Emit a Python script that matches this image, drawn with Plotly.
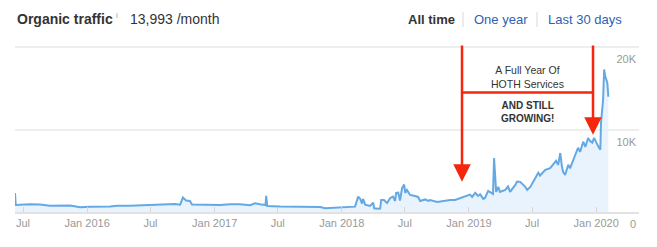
import plotly.graph_objects as go

dates = [
    "2015-06-08", "2015-06-10", "2015-07-21", "2015-08-19", "2015-09-16", "2015-11-13",
    "2015-12-12", "2016-01-09", "2016-03-07", "2016-03-27", "2016-05-03", "2016-06-30",
    "2016-08-12", "2016-09-09", "2016-09-24", "2016-10-02", "2016-10-11", "2016-10-22",
    "2016-10-28", "2016-11-20", "2017-01-17", "2017-02-14", "2017-03-15", "2017-04-13",
    "2017-04-27", "2017-05-11", "2017-05-27", "2017-05-29", "2017-06-01", "2017-07-08",
    "2017-09-03", "2017-10-31", "2017-11-14", "2017-12-13", "2017-12-27", "2018-02-08",
    "2018-02-17", "2018-02-23", "2018-02-28", "2018-03-03", "2018-03-09", "2018-03-23",
    "2018-04-01", "2018-04-04", "2018-04-15", "2018-04-21", "2018-04-24", "2018-05-02",
    "2018-05-11", "2018-05-20", "2018-05-28", "2018-06-03", "2018-06-06", "2018-06-12",
    "2018-06-17", "2018-06-23", "2018-06-29", "2018-07-02", "2018-07-07", "2018-07-16",
    "2018-07-30", "2018-08-08", "2018-08-14", "2018-08-28", "2018-09-06", "2018-09-11",
    "2018-10-02", "2018-10-24", "2018-11-08", "2018-11-22", "2018-12-07", "2018-12-21",
    "2019-01-04", "2019-01-10", "2019-01-19", "2019-01-27", "2019-02-02", "2019-02-11",
    "2019-02-16", "2019-02-25", "2019-03-03", "2019-03-11", "2019-03-14", "2019-03-20",
    "2019-03-26", "2019-03-31", "2019-04-15", "2019-04-23", "2019-04-29", "2019-05-08",
    "2019-05-14", "2019-05-19", "2019-05-28", "2019-06-11", "2019-06-17", "2019-06-26",
    "2019-07-10", "2019-07-19", "2019-07-24", "2019-08-08", "2019-08-22", "2019-08-31",
    "2019-09-08", "2019-09-14", "2019-09-20", "2019-09-25", "2019-09-28", "2019-10-04",
    "2019-10-13", "2019-10-18", "2019-10-27", "2019-11-02", "2019-11-10", "2019-11-16",
    "2019-11-25", "2019-12-01", "2019-12-09", "2019-12-15", "2019-12-21", "2019-12-26",
    "2020-01-01", "2020-01-07", "2020-01-13", "2020-01-15", "2020-01-21", "2020-01-24",
    "2020-01-27", "2020-01-30", "2020-02-02", "2020-02-05",
]
traffic = [
    2300, 850, 940, 900, 770, 790,
    570, 650, 670, 770, 770, 890,
    975, 975, 890, 1750, 1400, 1340,
    900, 890, 850, 940, 940, 820,
    1060, 940, 850, 1950, 730, 670,
    610, 600, 450, 490, 525, 650,
    1870, 1590, 1025, 1590, 900, 730,
    1130, 450, 400, 420, 1460, 1460,
    1100, 1710, 1870, 1340, 2320, 2350,
    1400, 2890, 3330, 2320, 2680, 2070,
    1950, 1830, 1340, 1525, 1340, 1460,
    1220, 1380, 1460, 1460, 1670, 1870,
    2110, 1830, 2320, 1950, 2170, 1590,
    1710, 2560, 2400, 2200, 6550, 2440,
    3050, 2440, 2680, 3090, 2440, 2930,
    3290, 3700, 3660, 3090, 2680, 3050,
    4150, 4760, 4430, 5120, 5330, 5770,
    6220, 5730, 7160, 5490, 4880, 4510,
    5730, 5300, 6340, 6800, 7800, 7300,
    8540, 7900, 8990, 8600, 8420, 8990,
    8380, 7970, 7560, 10860, 13660, 17300,
    16500, 15900, 15700, 13993,
]

tick_dates = ["2015-07-01", "2016-01-01", "2016-07-01", "2017-01-01", "2017-07-01",
              "2018-01-01", "2018-07-01", "2019-01-01", "2019-07-01", "2020-01-01"]
tick_labels = ["Jul", "Jan 2016", "Jul", "Jan 2017", "Jul",
               "Jan 2018", "Jul", "Jan 2019", "Jul", "Jan 2020"]
y_ticks = [0, 10000, 20000]
y_labels = ["0", "10K", "20K"]

FONT = "Liberation Sans, Arial, Helvetica, sans-serif"
RED = "#f5260c"

fig = go.Figure()
fig.add_trace(go.Scatter(
    x=dates, y=traffic, mode="lines",
    line=dict(color="#64a8e4", width=2),
    fill="tozeroy", fillcolor="rgba(228,240,252,0.8)",
    hoverinfo="skip",
))

fig.update_layout(
    width=657, height=247,
    margin=dict(l=15, r=18, t=44, b=35),
    paper_bgcolor="white", plot_bgcolor="white",
    showlegend=False,
    font=dict(family=FONT, color="#999999", size=11),
    xaxis=dict(
        type="date", range=["2015-06-08", "2020-05-03"],
        tickvals=tick_dates, ticktext=tick_labels,
        ticks="inside", ticklen=5, tickcolor="#d6d6d6", tickwidth=1,
        showgrid=False, showline=True, linecolor="#e2e2e2", linewidth=2,
        tickfont=dict(size=11, color="#999999", family=FONT),
        zeroline=False, fixedrange=True,
    ),
    yaxis=dict(
        range=[0, 20400], side="right",
        tickvals=y_ticks, ticktext=y_labels,
        ticklabelposition="inside", ticklabelshift=12, ticklabeloverflow="allow",
        showgrid=True, gridcolor="#eeeeee", gridwidth=1.5,
        zeroline=False, showline=False, ticks="",
        tickfont=dict(size=11, color="#999999", family=FONT),
        fixedrange=True,
    ),
)

# Header texts
fig.add_annotation(xref="paper", yref="paper", x=0, y=1, yshift=25, xanchor="left",
                   yanchor="middle", showarrow=False,
                   text="<b>Organic traffic</b>", font=dict(size=14, color="#333333", family=FONT))
fig.add_annotation(xref="paper", yref="paper", x=0.1635, y=1, yshift=29, xanchor="center",
                   yanchor="middle", showarrow=False,
                   text="i", font=dict(size=8, color="#999999", family=FONT))
fig.add_annotation(xref="paper", yref="paper", x=0.181, y=1, yshift=25, xanchor="left",
                   yanchor="middle", showarrow=False,
                   text="13,993 /month", font=dict(size=14, color="#333333", family=FONT))
fig.add_annotation(xref="paper", yref="paper", x=0.6667, y=1, yshift=25, xanchor="center",
                   yanchor="middle", showarrow=False,
                   text="<b>All time</b>", font=dict(size=13, color="#333333", family=FONT))
fig.add_annotation(xref="paper", yref="paper", x=0.7788, y=1, yshift=25, xanchor="center",
                   yanchor="middle", showarrow=False,
                   text="One year", font=dict(size=13, color="#2f5fb3", family=FONT))
fig.add_annotation(xref="paper", yref="paper", x=0.9135, y=1, yshift=25, xanchor="center",
                   yanchor="middle", showarrow=False,
                   text="Last 30 days", font=dict(size=13, color="#2f5fb3", family=FONT))
for xp in (0.718, 0.8365):
    fig.add_shape(type="line", xref="paper", yref="paper", x0=xp, x1=xp, y0=1.101, y1=1.190,
                  line=dict(color="#d9d9d9", width=1))

# Red callout
left_tip, right_tip = "2018-12-12", "2019-12-23"
fig.add_annotation(x=left_tip, y=3660, ax=left_tip, ay=20400, axref="x", ayref="y",
                   showarrow=True, arrowhead=2, arrowsize=1.4, arrowwidth=2.5,
                   arrowcolor=RED, text="")
fig.add_annotation(x=right_tip, y=9390, ax=right_tip, ay=20400, axref="x", ayref="y",
                   showarrow=True, arrowhead=2, arrowsize=1.4, arrowwidth=2.5,
                   arrowcolor=RED, text="")
fig.add_shape(type="line", xref="x", yref="y", x0=left_tip, x1=right_tip, y0=14520, y1=14520,
              line=dict(color=RED, width=2.5))
fig.add_annotation(x="2019-06-17", y=16410, showarrow=False,
                   text="A Full Year Of<br>HOTH Services",
                   font=dict(size=10.5, color="#333333", family=FONT))
fig.add_annotation(x="2019-06-17", y=12200, showarrow=False,
                   text="<b>AND STILL<br>GROWING!</b>",
                   font=dict(size=10, color="#333333", family=FONT))

fig.write_html("out.html")
